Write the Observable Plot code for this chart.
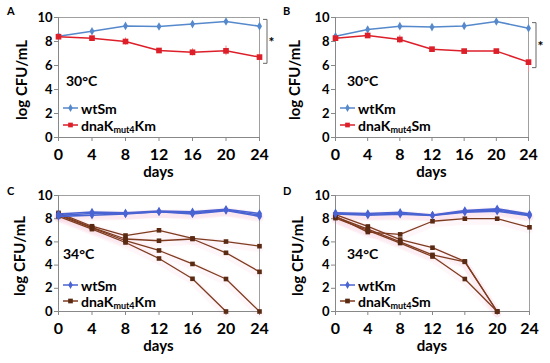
<!DOCTYPE html>
<html><head><meta charset="utf-8">
<script src="https://cdn.jsdelivr.net/npm/d3@7"></script>
<script src="https://cdn.jsdelivr.net/npm/@observablehq/plot@0.6"></script>
<style>
body{margin:0;background:#fff;}
#wrap{position:relative;width:550px;height:363px;overflow:hidden;background:#fff;}
.panel{position:absolute;width:275px;height:180px;overflow:hidden;}
</style></head><body><div id="wrap"></div>
<script>
const days = [0, 4, 8, 12, 16, 20, 24];
const yTicks = [0, 2, 4, 6, 8, 10];
const xTicks = [0, 4, 8, 12, 16, 20, 24];

// Panel A (30°C): wtSm vs dnaKmut4Km
const aWt = [8.44, 8.86, 9.30, 9.25, 9.45, 9.67, 9.28];
const aWtErr = [0.05, 0.1, 0.1, 0.15, 0.1, 0.1, 0.15];
const aMut = [8.40, 8.28, 8.00, 7.25, 7.10, 7.22, 6.70];
const aMutErr = [0.05, 0.1, 0.3, 0.15, 0.3, 0.4, 0.35];
const aBracket = [9.8, 6.14];

// Panel B (30°C): wtKm vs dnaKmut4Sm
const bWt = [8.44, 9.00, 9.28, 9.20, 9.30, 9.67, 9.10];
const bWtErr = [0.05, 0.1, 0.1, 0.1, 0.15, 0.1, 0.15];
const bMut = [8.28, 8.50, 8.17, 7.36, 7.20, 7.20, 6.28];
const bMutErrHi = [0.05, 0.1, 0.35, 0.1, 0.1, 0.1, 0.3];
const bMutErrLo = [0.05, 0.1, 0.35, 0.1, 0.1, 0.1, 0.85];
const bBracket = [9.53, 5.78];

// Panel C (34°C): wtSm replicates, dnaKmut4Km replicates
const cWt1 = [8.20, 8.30, 8.40, 8.60, 8.40, 8.70, 8.20];
const cWt2 = [8.40, 8.58, 8.50, 8.65, 8.60, 8.82, 8.45];
const cWt3 = [8.30, 8.45, 8.45, 8.60, 8.50, 8.75, 8.32];
const cMut1 = [8.50, 7.35, 6.55, 7.00, 6.30, 6.03, 5.63];
const cMut2 = [8.40, 7.25, 6.25, 6.10, 6.25, 5.06, 3.42];
const cMut3 = [8.30, 7.20, 6.10, 5.26, 4.10, 2.80, 0.00];
const cMut4 = [8.20, 7.10, 5.95, 4.57, 2.82, 0.00, null];

// Panel D (34°C): wtKm replicates, dnaKmut4Sm replicates
const dWt1 = [8.40, 8.30, 8.38, 8.28, 8.55, 8.65, 8.25];
const dWt2 = [8.50, 8.45, 8.55, 8.32, 8.70, 8.85, 8.40];
const dWt3 = [8.45, 8.38, 8.45, 8.30, 8.62, 8.75, 8.32];
const dMut1 = [8.20, 6.85, 6.65, 7.78, 8.00, 8.00, 7.26];
const dMut2 = [8.35, 7.33, 6.20, 5.50, 4.32, 0.00, null];
const dMut3 = [8.15, 7.10, 6.00, 4.88, 4.28, 0.00, null];
const dMut4 = [8.05, 7.00, 5.90, 4.74, 2.80, 0.00, null];

const BLUE_AB = "#5689cc", RED = "#dd1f2a", RED_ERR = "#ef8a90";
const BLUE_CD = "#4a63d2", BROWN = "#7e3b1f";
const FONT = "Lato, 'Open Sans', sans-serif";

function rowsOf(values, lo, hi) {
  const out = [];
  values.forEach((v, i) => { if (v != null) out.push({day: days[i], v, lo: lo ? lo[i] : 0, hi: hi ? hi[i] : (lo ? lo[i] : 0)}); });
  return out;
}

function panel(cfg) {
  const W = 275, H = 180;
  const m = cfg.margin;
  const marks = [];
  if (cfg.glow) {
    for (const s of cfg.series) if (s.glow) marks.push(Plot.line(rowsOf(s.values), {x: "day", y: "v", stroke: "#f8cfe0", strokeWidth: 8, strokeOpacity: 0.18, dy: 2}));
  }
  marks.push(Plot.frame({stroke: "#a0a0a0", strokeWidth: 1}));
  marks.push(Plot.axisY({ticks: yTicks, tickSize: 4, tickPadding: 2, fontSize: 13, fontWeight: "bold", fontFamily: FONT, label: null, stroke: "#888", fill: "#000"}));
  marks.push(Plot.axisX({ticks: xTicks, tickSize: 4, tickPadding: 7, fontSize: 16, fontWeight: "bold", fontFamily: FONT, label: null, stroke: "#888", fill: "#000"}));
  marks.push(Plot.ruleX([0], {stroke: "#888"}));
  marks.push(Plot.ruleY([0], {stroke: "#888"}));
  for (const s of cfg.series) {
    const rows = rowsOf(s.values, s.errLo, s.errHi);
    if (s.errLo) marks.push(Plot.ruleX(rows, {x: "day", y1: d => d.v - d.lo, y2: d => d.v + d.hi, stroke: s.errColor, strokeWidth: 1}));
    marks.push(Plot.line(rows, {x: "day", y: "v", stroke: s.color, strokeWidth: s.width}));
    marks.push(Plot.dot(rows, {x: "day", y: "v", symbol: s.symbol, r: s.r, fill: s.mark, stroke: "none"}));
  }
  const plot = Plot.plot({
    width: W, height: H,
    marginLeft: m[0], marginRight: m[1], marginTop: m[2], marginBottom: m[3],
    x: {domain: [0, 24]},
    y: {domain: [0, 10]},
    style: {background: "transparent", fontFamily: FONT},
    marks
  });
  const svg = d3.select(plot);
  const L = m[0], R = W - m[1], T = m[2], B = H - m[3];
  const yS = plot.scale("y");
  const g = svg.append("g").attr("font-family", FONT).attr("font-weight", "bold").attr("fill", "#000").attr("text-anchor", "start");
  g.append("text").attr("x", cfg.letterX).attr("y", 15).attr("font-size", 11).text(cfg.letter);
  g.append("text").attr("transform", `translate(${cfg.yLabelX},${(T + B) / 2 + 3}) rotate(-90)`)
    .attr("text-anchor", "middle").attr("dominant-baseline", "central").attr("font-size", 15).text("log CFU/mL");
  g.append("text").attr("x", (L + R) / 2).attr("y", B + 40).attr("text-anchor", "middle").attr("font-size", 15).text("days");
  g.append("text").attr("x", L + cfg.tempDx).attr("y", B - cfg.tempDy).attr("dominant-baseline", "central").attr("font-size", 14).text(cfg.temp);
  // legend
  cfg.legend.forEach((it) => {
    const cy = B - it.dy;
    const x0 = L + 5, x1 = L + 20;
    g.append("line").attr("x1", x0).attr("x2", x1).attr("y1", cy).attr("y2", cy).attr("stroke", it.color).attr("stroke-width", 1.5);
    const sym = d3.symbol(it.symbol === "square" ? d3.symbolSquare : d3.symbolDiamond, it.symbol === "square" ? 22 : 18)();
    g.append("path").attr("d", sym).attr("transform", `translate(${(x0 + x1) / 2},${cy})`).attr("fill", it.mark);
    const t = g.append("text").attr("x", x1 + 3).attr("y", cy).attr("dominant-baseline", "central").attr("font-size", 14);
    t.append("tspan").text(it.parts[0]);
    if (it.parts.length > 1) {
      t.append("tspan").attr("font-size", 9).attr("dy", 4).text(it.parts[1]);
      t.append("tspan").attr("dy", -4).text(it.parts[2]);
    }
  });
  if (cfg.bracket) {
    const bx = R + 8, y1 = yS.apply(cfg.bracket[0]), y2 = yS.apply(cfg.bracket[1]);
    g.append("path").attr("d", `M${bx - 4},${y1}H${bx}V${y2}H${bx - 4}`).attr("fill", "none").attr("stroke", "#666").attr("stroke-width", 1);
    g.append("text").attr("x", bx + 1.5).attr("y", (y1 + y2) / 2 + 6).attr("font-size", 14).text("*");
  }
  return plot;
}

const wrap = document.getElementById("wrap");
function place(plot, left, top) {
  const d = document.createElement("div");
  d.className = "panel"; d.style.left = left + "px"; d.style.top = top + "px";
  d.appendChild(plot); wrap.appendChild(d);
}

const legAB = (wt, mutParts) => [
  {parts: [wt], color: BLUE_AB, mark: BLUE_AB, symbol: "diamond", dy: 29},
  {parts: mutParts, color: RED, mark: RED, symbol: "square", dy: 12}
];
const legCD = (wt, mutParts) => [
  {parts: [wt], color: BLUE_CD, mark: BLUE_CD, symbol: "diamond", dy: 26},
  {parts: mutParts, color: BROWN, mark: "#5a2a12", symbol: "square", dy: 10}
];

place(panel({
  margin: [58, 16, 17, 43], letter: "A", letterX: 7, yLabelX: 21, temp: "30°C", tempDx: 8, tempDy: 57,
  series: [
    {values: aWt, errLo: aWtErr, errColor: "#9bb8e3", color: BLUE_AB, mark: BLUE_AB, width: 1.5, symbol: "diamond", r: 2.6},
    {values: aMut, errLo: aMutErr, errColor: RED_ERR, color: RED, mark: RED, width: 1.5, symbol: "square", r: 3.2}
  ],
  legend: legAB("wtSm", ["dnaK", "mut4", "Km"]), bracket: aBracket
}), 0, 0);

place(panel({
  margin: [60, 22, 17, 43], letter: "B", letterX: 8, yLabelX: 19, temp: "30°C", tempDx: 12, tempDy: 57,
  series: [
    {values: bWt, errLo: bWtErr, errColor: "#9bb8e3", color: BLUE_AB, mark: BLUE_AB, width: 1.5, symbol: "diamond", r: 2.6},
    {values: bMut, errLo: bMutErrLo, errHi: bMutErrHi, errColor: RED_ERR, color: RED, mark: RED, width: 1.5, symbol: "square", r: 3.2}
  ],
  legend: legAB("wtKm", ["dnaK", "mut4", "Sm"]), bracket: bBracket
}), 275, 0);

const brown = v => ({values: v, color: BROWN, mark: "#5a2a12", width: 1.3, symbol: "square", r: 2.6, glow: true});
const blue = v => ({values: v, color: BLUE_CD, mark: BLUE_CD, width: 1.6, symbol: "diamond", r: 2.6, glow: true});

place(panel({
  margin: [58, 16, 15, 49], letter: "C", letterX: 7, yLabelX: 19, temp: "34°C", tempDx: 5, tempDy: 58, glow: true,
  series: [brown(cMut1), brown(cMut2), brown(cMut3), brown(cMut4), blue(cWt1), blue(cWt2), blue(cWt3)],
  legend: legCD("wtSm", ["dnaK", "mut4", "Km"])
}), 0, 180);

place(panel({
  margin: [60, 21, 15, 49], letter: "D", letterX: 8, yLabelX: 22, temp: "34°C", tempDx: 12, tempDy: 58, glow: true,
  series: [brown(dMut1), brown(dMut2), brown(dMut3), brown(dMut4), blue(dWt1), blue(dWt2), blue(dWt3)],
  legend: legCD("wtKm", ["dnaK", "mut4", "Sm"])
}), 275, 180);
</script></body></html>
